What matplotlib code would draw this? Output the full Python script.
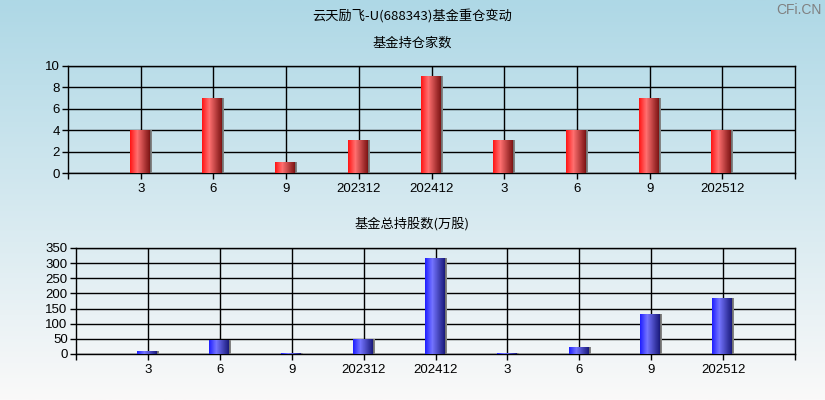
import numpy as np
import matplotlib
matplotlib.use("Agg")
import matplotlib.pyplot as plt
from matplotlib.colors import LinearSegmentedColormap

plt.rcParams['font.family'] = ['Liberation Sans', 'Noto Sans CJK SC', 'DejaVu Sans']

# ---- data ----
categories = ["3", "6", "9", "202312", "202412", "3", "6", "9", "202512"]
fund_counts = [4, 7, 1, 3, 9, 3, 4, 7, 4]
fund_shares = [7, 43, 3, 49, 315, 3, 21, 131, 184]

title = "云天励飞-U(688343)基金重仓变动"
sub1 = "基金持仓家数"
sub2 = "基金总持股数(万股)"
top_yticks = [0, 2, 4, 6, 8, 10]
bot_yticks = [0, 50, 100, 150, 200, 250, 300, 350]

W, H = 825, 400
fig = plt.figure(figsize=(W / 100, H / 100), dpi=100)

# background gradient
bg = fig.add_axes([0, 0, 1, 1], zorder=-10)
top_c = np.array([174, 216, 230]) / 255
bot_c = np.array([250, 249, 249]) / 255
t = np.linspace(0, 1, 256)[:, None]
grad = top_c[None, :] * (1 - t) + bot_c[None, :] * t
bg.imshow(grad[:, None, :], aspect='auto', extent=[0, 1, 0, 1])
bg.set_axis_off()

red_cmap = LinearSegmentedColormap.from_list(
    "r", [(0, "#ff1414"), (0.33, "#ff7070"), (0.92, "#7a1212"), (0.93, "#6e6e6e"), (1, "#8a8a8a")])
blue_cmap = LinearSegmentedColormap.from_list(
    "b", [(0, "#1e1eff"), (0.33, "#7474ff"), (0.92, "#181878"), (0.93, "#6e6e6e"), (1, "#8a8a8a")])


def px_axes(l, t_, r, b):
    return fig.add_axes([l / W, 1 - b / H, (r - l) / W, (b - t_) / H])


def draw(ax, values, cmap, yticks):
    n = len(values)
    xs = np.arange(1, n + 1)
    w = 0.3
    gimg = np.linspace(0, 1, 128)[None, :]
    for x, v in zip(xs, values):
        ax.bar(x, v, width=w, color='none', edgecolor='none')
        ax.imshow(gimg, cmap=cmap, aspect='auto', extent=[x - w / 2, x + w / 2, 0, v],
                  interpolation='nearest', zorder=3)
    ax.set_xlim(0, n + 1)
    ax.set_ylim(yticks[0], yticks[-1])
    ax.set_facecolor('none')
    ax.set_yticks(yticks)
    ax.set_xticks(np.arange(0, n + 2))
    ax.set_xticklabels([""] + categories + [""])
    for yv in yticks:
        ax.axhline(yv, color='black', lw=1, zorder=1)
    for x in xs:
        ax.axvline(x, color='black', lw=1, zorder=1)
    for s in ax.spines.values():
        s.set_color('black')
        s.set_linewidth(1)
    ax.tick_params(axis='both', direction='out', length=4, width=1, labelsize=9.5,
                   colors='black', pad=2)
    ax.tick_params(axis='x', pad=3)


ax1 = px_axes(68, 66, 795, 173)
draw(ax1, fund_counts, red_cmap, top_yticks)
ax2 = px_axes(76, 248, 795, 354)
draw(ax2, fund_shares, blue_cmap, bot_yticks)

fig.text(412 / W, 1 - 17 / H, title, ha='center', va='center', fontsize=9.5,
         family=['Noto Sans CJK SC', 'DejaVu Sans'])
fig.text(412 / W, 1 - 43 / H, sub1, ha='center', va='center', fontsize=9.5,
         family=['Noto Sans CJK SC', 'DejaVu Sans'])
fig.text(412 / W, 1 - 224 / H, sub2, ha='center', va='center', fontsize=9.5,
         family=['Noto Sans CJK SC', 'DejaVu Sans'])
fig.text(822 / W, 1 - 10 / H, "CFi.CN", ha='right', va='center', fontsize=10,
         color='#808080', family=['Liberation Sans', 'DejaVu Sans'])

fig.savefig("out.png", dpi=100)
